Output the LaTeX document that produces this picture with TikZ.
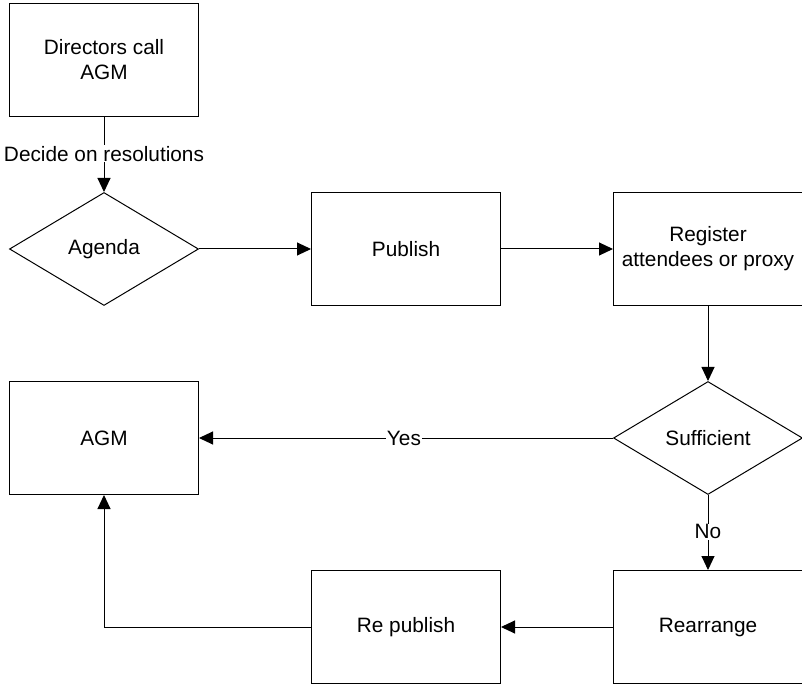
\documentclass[tikz,border=0pt]{standalone}
\usepackage{fontspec}
\setmainfont{Liberation Sans}
\usetikzlibrary{arrows.meta,shapes.geometric}
\begin{document}
\begin{tikzpicture}[x=1pt,y=-1pt,
  txt/.style={font=\fontsize{20.8}{25}\selectfont},
  stepbox/.style={draw, rectangle, line width=1pt, minimum width=189pt,
    minimum height=113pt, inner sep=0pt, align=center, txt},
  decision/.style={draw, diamond, line width=1pt, minimum width=189pt,
    minimum height=113pt, inner sep=0pt, align=center, txt},
  flow/.style={line width=1pt, -{Triangle[length=14pt,width=13pt]}},
  tag/.style={fill=white, inner sep=1pt, txt}]
  \useasboundingbox (0,0) rectangle (802,684);

  % top-left column
  \node[stepbox]  (call)   at (104,60)  {Directors call\\AGM};
  \node[decision] (agenda) at (104,249) {Agenda};
  % second row
  \node[stepbox]  (pub)    at (406,249) {Publish};
  \node[stepbox]  (reg)    at (708,249) {Register\\attendees or proxy};
  % third row
  \node[decision] (suff)   at (708,438) {Sufficient};
  \node[stepbox]  (agm)    at (104,438) {AGM};
  % bottom row
  \node[stepbox]  (rearr)  at (708,627) {Rearrange};
  \node[stepbox]  (repub)  at (406,627) {Re publish};

  \draw[flow] (call) -- node[tag, pos=0.49] {Decide on resolutions} (agenda);
  \draw[flow] (agenda) -- (pub);
  \draw[flow] (pub) -- (reg);
  \draw[flow] (reg) -- (suff);
  \draw[flow] (suff) -- node[tag, pos=0.505] {Yes} (agm);
  \draw[flow] (suff) -- node[tag, pos=0.49] {No} (rearr);
  \draw[flow] (rearr) -- (repub);
  \draw[flow] (repub.west) -| (agm.south);
\end{tikzpicture}
\end{document}
